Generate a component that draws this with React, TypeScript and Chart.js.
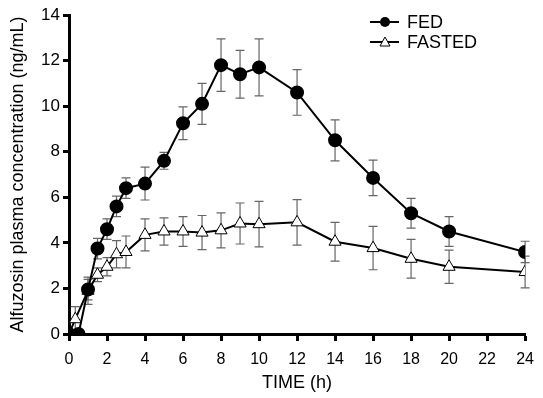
import React, { useEffect, useRef } from "react";
import { Chart, registerables } from "chart.js";

Chart.register(...registerables);

const FONT = "'Liberation Sans', Arial, Helvetica, sans-serif";

const fedTimes = [0, 0.5, 1, 1.5, 2, 2.5, 3, 4, 5, 6, 7, 8, 9, 10, 12, 14, 16, 18, 20, 24];
const fedValues = [0, 0, 1.95, 3.75, 4.6, 5.6, 6.4, 6.6, 7.6, 9.25, 10.1, 11.8, 11.4, 11.7, 10.6, 8.5, 6.85, 5.3, 4.5, 3.6];
const fedErrors = [0, 0, 0.45, 0.45, 0.45, 0.45, 0.45, 0.72, 0.37, 0.72, 0.9, 1.15, 1.05, 1.25, 1.0, 0.9, 0.78, 0.65, 0.65, 0.47];

const fastedTimes = [0, 0.33, 1, 1.5, 2, 2.5, 3, 4, 5, 6, 7, 8, 9, 10, 12, 14, 16, 18, 20, 24];
const fastedValues = [0, 0.65, 1.9, 2.6, 2.95, 3.5, 3.6, 4.35, 4.5, 4.5, 4.45, 4.55, 4.85, 4.82, 4.9, 4.05, 3.77, 3.3, 2.95, 2.72];
const fastedErrors = [0, 0.55, 0.6, 0.3, 0.4, 0.6, 0.7, 0.7, 0.6, 0.65, 0.75, 0.77, 0.9, 1.0, 1.0, 0.85, 0.95, 0.85, 0.73, 0.7];

const xTicks = [0, 2, 4, 6, 8, 10, 12, 14, 16, 18, 20, 22, 24];
const yTicks = [0, 2, 4, 6, 8, 10, 12, 14];

const seriesNames = ["FED", "FASTED"];
const xTitle = "TIME (h)";
const yTitle = "Alfuzosin plasma concentration (ng/mL)";

const errorBarPlugin = {
  id: "errorBars",
  beforeDatasetsDraw(chart: any) {
    const { ctx, scales } = chart;
    const xs = scales.x;
    const ys = scales.y;
    const sets = [
      { t: fedTimes, v: fedValues, e: fedErrors },
      { t: fastedTimes, v: fastedValues, e: fastedErrors },
    ];
    ctx.save();
    ctx.strokeStyle = "#666";
    ctx.lineWidth = 1.2;
    for (const s of sets) {
      for (let i = 0; i < s.t.length; i++) {
        if (!s.e[i]) continue;
        const x = xs.getPixelForValue(s.t[i]);
        const yt = ys.getPixelForValue(s.v[i] + s.e[i]);
        const yb = ys.getPixelForValue(Math.max(0, s.v[i] - s.e[i]));
        ctx.beginPath();
        ctx.moveTo(x, yt);
        ctx.lineTo(x, yb);
        ctx.moveTo(x - 4.5, yt);
        ctx.lineTo(x + 4.5, yt);
        ctx.moveTo(x - 4.5, yb);
        ctx.lineTo(x + 4.5, yb);
        ctx.stroke();
      }
    }
    ctx.restore();
  },
};

const legendPlugin = {
  id: "customLegend",
  afterDraw(chart: any) {
    const { ctx } = chart;
    ctx.save();
    const items = [
      { label: seriesNames[0], y: 22, style: "circle" },
      { label: seriesNames[1], y: 42, style: "triangle" },
    ];
    for (const it of items) {
      ctx.strokeStyle = "#000";
      ctx.lineWidth = 2;
      ctx.beginPath();
      ctx.moveTo(370, it.y);
      ctx.lineTo(399, it.y);
      ctx.stroke();
      if (it.style === "circle") {
        ctx.fillStyle = "#000";
        ctx.beginPath();
        ctx.arc(385, it.y, 5, 0, Math.PI * 2);
        ctx.fill();
      } else {
        ctx.fillStyle = "#fff";
        ctx.lineWidth = 1;
        ctx.beginPath();
        ctx.moveTo(385, it.y - 5);
        ctx.lineTo(390, it.y + 4);
        ctx.lineTo(380, it.y + 4);
        ctx.closePath();
        ctx.fill();
        ctx.stroke();
      }
      ctx.fillStyle = "#000";
      ctx.font = `18px ${FONT}`;
      ctx.textBaseline = "middle";
      ctx.textAlign = "left";
      ctx.fillText(it.label, 407, it.y + 1);
    }
    ctx.restore();
  },
};

export default function App() {
  const ref = useRef<HTMLCanvasElement>(null);
  useEffect(() => {
    document.body.style.margin = "0";
    if (!ref.current) return;
    const chart = new Chart(ref.current, {
      type: "line",
      data: {
        datasets: [
          {
            label: seriesNames[0],
            data: fedTimes.map((t, i) => ({ x: t, y: fedValues[i] })),
            borderColor: "#000",
            borderWidth: 2,
            backgroundColor: "#000",
            pointBackgroundColor: "#000",
            pointBorderColor: "#000",
            pointRadius: 6,
            pointStyle: "circle",
            tension: 0,
          },
          {
            label: seriesNames[1],
            data: fastedTimes.map((t, i) => ({ x: t, y: fastedValues[i] })),
            borderColor: "#000",
            borderWidth: 2,
            backgroundColor: "#fff",
            pointBackgroundColor: "#fff",
            pointBorderColor: "#000",
            pointBorderWidth: 1,
            pointRadius: 7,
            pointStyle: "triangle",
            tension: 0,
          },
        ],
      },
      options: {
        responsive: false,
        animation: false,
        events: [],
        layout: { padding: { top: 15, right: 16, left: 1, bottom: 0 } },
        plugins: { legend: { display: false }, tooltip: { enabled: false } },
        scales: {
          x: {
            type: "linear",
            min: 0,
            max: 24,
            afterBuildTicks: (s: any) => {
              s.ticks = xTicks.map((v) => ({ value: v }));
            },
            afterFit: (s: any) => {
              s.height = 64;
            },
            ticks: { color: "#000", font: { size: 16, family: FONT }, padding: 9 },
            grid: { drawOnChartArea: false, drawTicks: true, tickLength: 7, tickWidth: 3, tickColor: "#000" },
            border: { display: true, color: "#000", width: 3 },
            title: {
              display: true,
              text: xTitle,
              color: "#000",
              font: { size: 18, family: FONT },
              padding: { top: 2, bottom: 4 },
            },
          },
          y: {
            type: "linear",
            min: 0,
            max: 14,
            afterBuildTicks: (s: any) => {
              s.ticks = yTicks.map((v) => ({ value: v }));
            },
            afterFit: (s: any) => {
              s.width = 68;
            },
            ticks: { color: "#000", font: { size: 17, family: FONT }, padding: 3 },
            grid: { drawOnChartArea: false, drawTicks: true, tickLength: 6, tickWidth: 3, tickColor: "#000" },
            border: { display: true, color: "#000", width: 3 },
            title: {
              display: true,
              text: yTitle,
              color: "#000",
              font: { size: 18, family: FONT },
              padding: { top: 6, bottom: 2 },
            },
          },
        },
      },
      plugins: [errorBarPlugin, legendPlugin],
    } as any);
    return () => chart.destroy();
  }, []);
  return <canvas ref={ref} width={543} height={398} style={{ display: "block" }} />;
}
